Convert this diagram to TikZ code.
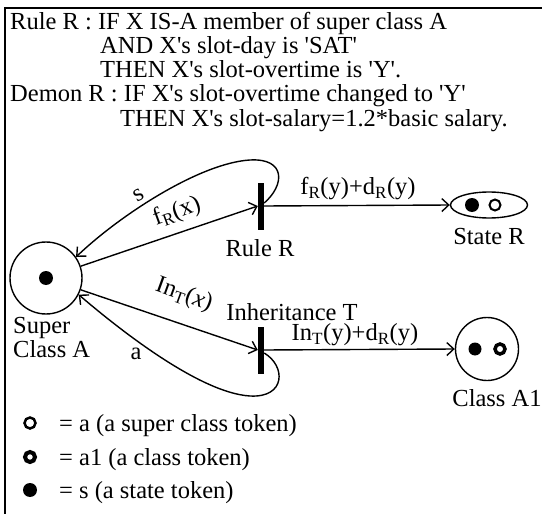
\documentclass[tikz,border=0pt]{standalone}
\usepackage{fontspec}
\setmainfont{Liberation Serif}
\usetikzlibrary{arrows.meta,shapes.geometric}
\newcommand{\q}{\textquotesingle}
\begin{document}
\begin{tikzpicture}[x=1pt,y=-1pt,
  font=\fontsize{24.5}{27}\selectfont,
  txt/.style={inner sep=0pt, anchor=base west},
  lbl/.style={inner sep=0pt},
  arc/.style={line width=1.4pt, -{Straight Barb[length=7pt,width=13pt,line width=1.4pt]}},
  bar/.style={fill=black, inner sep=0pt, minimum width=6pt, minimum height=47pt},
  place/.style={circle, draw, line width=1.4pt, inner sep=0pt},
  stok/.style={circle, fill=black, inner sep=0pt, minimum size=13pt},
  atok/.style={circle, draw, line width=2pt, inner sep=0pt, minimum size=10pt},
  a1tok/.style={circle, draw, line width=3.5pt, inner sep=0pt, minimum size=9pt}]
\useasboundingbox (0,0) rectangle (542,514);
% frame
\draw[line width=2pt] (542,8) -- (5,8) -- (5,514);
% header text
\node[txt] (h1) at (10,29) {Rule R : IF X IS-A member of super class A};
\node[txt] (h2) at (100,53) {AND X\q s slot-day is \q SAT\q};
\node[txt] (h3) at (100,77.5) {THEN X\q s slot-overtime is \q Y\q .};
\node[txt] (h4) at (10,101.5) {Demon R : IF X\q s slot-overtime changed to \q Y\q};
\node[txt] (h5) at (120,126) {THEN X\q s slot-salary=1.2*basic salary.};
% places and transitions
\node[place, minimum size=72pt] (SA) at (46,278) {};
\node[stok, minimum size=14pt] (SAt) at (SA) {};
\node[bar] (RR) at (261,206) {};
\node[bar] (IT) at (261,350) {};
\node[ellipse, draw, line width=1.4pt, minimum width=77pt, minimum height=26pt, inner sep=0pt] (SR) at (489,205) {};
\node[stok, minimum size=14pt] (SRs) at (472,205) {};
\node[atok, minimum size=11pt] (SRa) at (495,205) {};
\node[place, minimum size=63pt] (CA) at (487,349) {};
\node[stok] (CAs) at (475,349) {};
\node[a1tok, minimum size=10pt] (CAa) at (500,349) {};
% labels
\node[txt] (lsup) at (13,333.5) {Super};
\node[txt] (lcls) at (13,357) {Class A};
\node[lbl] (lrr) at (260,248) {Rule R};
\node[lbl] (lsr) at (489,237) {State R};
\node[lbl] (lit) at (292,312) {Inheritance T};
\node[lbl] (lca) at (497,398) {Class A1};
\node[lbl] (lfy) at (358,189) {f\textsubscript{R}(y)+d\textsubscript{R}(y)};
\node[lbl] (liy) at (355,335) {In\textsubscript{T}(y)+d\textsubscript{R}(y)};
\node[lbl, rotate=30] (ls) at (139,195) {s};
\node[lbl, rotate=20] (lfx) at (177,212) {f\textsubscript{R}(x)};
\node[lbl, rotate=-20] (lix) at (184,295) {In\textsubscript{T}(\textit{x})};
\node[lbl] (la) at (136,354) {a};
% connectors
\draw[arc] (SA) -- (RR.west);
\draw[arc] (RR.east) -- (SR.west);
\draw[arc] ([yshift=3pt]RR.east) .. controls (285,185) and (286,158) .. (250,160)
  .. controls (200,163) and (120,215) .. (SA.35);
\draw[arc] (SA) -- (IT.west);
\draw[arc] (IT.east) -- (CA.west);
\draw[arc] ([yshift=-3pt]IT.east) .. controls (286,366) and (286,398) .. (250,396)
  .. controls (200,393) and (120,330) .. (SA.-27);
% legend
\node[atok, line width=2.5pt, minimum size=11pt] (k1) at (30,423) {};
\node[txt] (t1) at (59,431) {= a (a super class token)};
\node[a1tok, line width=4pt, minimum size=10pt] (k2) at (30,457) {};
\node[txt] (t2) at (59,465) {= a1 (a class token)};
\node[stok, minimum size=14pt] (k3) at (30,490) {};
\node[txt] (t3) at (59,498) {= s (a state token)};
\end{tikzpicture}
\end{document}
